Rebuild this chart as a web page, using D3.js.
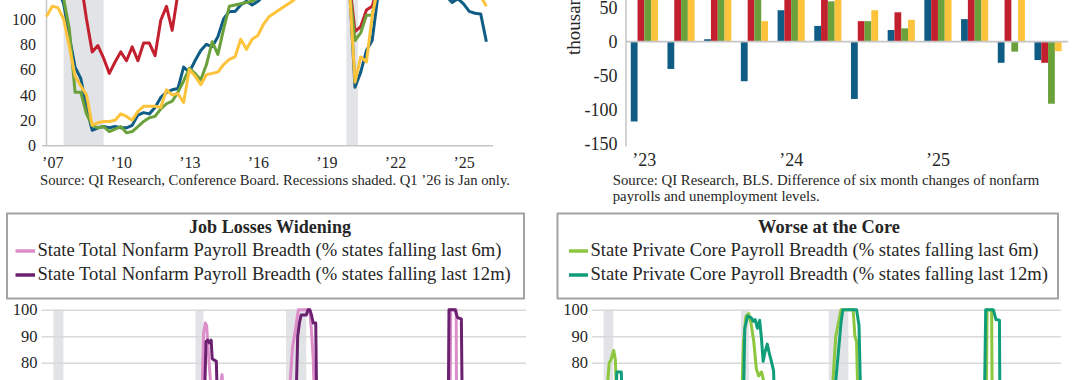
<!DOCTYPE html>
<html>
<head>
<meta charset="utf-8">
<script src="https://cdn.jsdelivr.net/npm/d3@7"></script>
<style>
body { margin: 0; background: #fff; }
svg { display: block; }
</style>
</head>
<body>
<svg id="chart" width="1080" height="380"></svg>
<script>
// ---------- data ----------
// top left: quarterly index, first point 2006 Q4, last point 2026 Q1
var tlStart = 2006.75;
var tlBlue = [125,128,124,112,86,62,53,30,12,14,15,14,15,14,14,16,24,26,25,30,38,42,44,45,62,58,67,75,80,78,86,100,106,106,111,114,111,114,118,121,124,126,128,129,131,132,133,132,134,133,132,131,130,128,46,58,75,83,118,130,140,148,150,147,145,140,135,130,126,122,118,113,116,112,106,104.5,104,82];
var tlRed = [135,138,140,140,138,135,130,100,74,79,69,57,66,74,67,78,67,81,81,71,99,110,91,120,135,140,145,150,152,155,158,160,162,165,166,168,170,170,171,172,172,173,174,175,176,176,177,178,178,178,177,176,175,130,90,94,107,110,125,140,150,160,165,168,170,168,165,162,160,158,156,154,152,150,148,146,145,143];
var tlGreen = [120,124,126,116,92,42,42,25,16,14,15,11,13,15,10,11,15,19,22,23,29,33,35,42,51,61,57,52,64,82,72,92,110,111,112,113,114,117,120,122,124,126,127,128,129,130,131,131,132,132,131,130,128,125,83,89,103,103,125,135,142,146,148,147,145,142,140,138,136,134,132,130,128,126,124,122,121,120];
var tlYellow = [102,110,109,100,78,55,47,40,16,18,19,19,20,25,23,20,27,31,31,31,30,44,40,41,34,60,55,48,56,57,58,64,68,70,84,76,84,87,96,102,105,108,111,114,118,121,123,124,126,127,128,128,127,126,50,70,66,102,125,135,142,145,146,144,140,137,134,131,128,126,124,122,121,120,119,118,118,110];
var tlRecessions = [[2007.5, 2009.25], [2019.875, 2020.375]];
var tlYears = [2007, 2010, 2013, 2016, 2019, 2022, 2025];
var tlYTicks = [0, 20, 40, 60, 80, 100];

// top right: quarterly bars, thousands
var trQuarters = ["2023Q1","2023Q2","2023Q3","2023Q4","2024Q1","2024Q2","2024Q3","2024Q4","2025Q1","2025Q2","2025Q3","2025Q4"];
var trBlue = [-117, -40, 3.5, -58, 46, 23, -84, 17, 70, 33, -31, -27];
var trRed = [150, 130, 110, 95, 125, 105, 30, 43, 120, 90, 85, -31];
var trGreen = [140, 120, 100, 90, 110, 59, 30, 19.5, 95, 75, -14.6, -91];
var trYellow = [130, 115, 95, 30, 105, 80, 46, 32, 110, 85, 70, -14];
var trYTicks = [-150, -100, -50, 0, 50];

// bottom: state payroll breadth, % of states falling [decimal year, value]
var bRecessions = [[1990.4, 1991.15], [2001.1, 2001.7], [2007.92, 2009.45], [2020.1, 2020.3]];
var totalPay6m = [[1989.5,20],[1990.8,42],[1991.3,55],[1992.2,25],[1995,6],[2000.8,12],[2001.5,48],[2001.6,68],[2001.71,91],[2001.84,95],[2001.94,94],[2002.1,81.5],[2002.23,73],[2002.5,65],[2002.9,69],[2003.1,75.5],[2003.3,62],[2003.8,40],[2005,8],[2007.8,30],[2008.14,66],[2008.41,85.6],[2008.66,93.4],[2008.85,100],[2009.71,100],[2009.84,92],[2009.97,81.5],[2010.1,60],[2010.6,25],[2012,8],[2019.5,10],[2020.25,40],[2020.33,100],[2020.74,100],[2020.79,40],[2021.2,8],[2024,20],[2026,45]];
var totalPay12m = [[1989.5,15],[1991.5,50],[1992.5,35],[1994,5],[2001.5,20],[2001.78,66],[2001.89,88],[2002.02,88.5],[2002.15,87.5],[2002.28,88.5],[2002.36,81.5],[2002.67,80.5],[2002.77,62],[2003.3,50],[2004.5,10],[2008.5,35],[2008.68,66],[2008.8,90],[2008.93,95],[2009.06,98],[2009.45,98],[2009.58,100],[2009.71,100],[2009.84,98],[2009.97,95],[2010.16,95],[2010.24,60],[2010.8,30],[2012,10],[2020.1,30],[2020.2,100],[2020.66,100],[2020.84,97],[2021.13,96.5],[2021.24,40],[2022,5],[2025,25],[2026,35]];
var corePay6m = [[1989.5,20],[1990.5,50],[1990.71,72],[1990.84,80],[1990.97,81],[1991.19,84.6],[1991.32,81],[1991.43,65],[1992,40],[1993,15],[2000.8,20],[2001.15,66],[2001.29,88],[2001.48,97.5],[2001.69,98.5],[2001.88,94.8],[2002.09,88],[2002.29,77.7],[2002.47,75],[2002.69,76.5],[2002.82,74],[2003,62],[2004,20],[2007.8,30],[2008.21,70],[2008.47,90],[2008.88,100],[2009.82,100],[2009.96,90],[2010.09,88],[2010.22,60],[2011,20],[2020.1,30],[2020.25,100],[2020.6,100],[2020.68,40],[2021.5,10],[2026,45]];
var corePay12m = [[1989.5,15],[1991.3,55],[1991.43,76.5],[1991.78,76.5],[1991.87,60],[1992.8,40],[1994,10],[2001.2,30],[2001.29,66],[2001.39,93],[2001.61,97.6],[2001.88,97],[2002.07,95.6],[2002.2,96.3],[2002.37,93],[2002.55,96],[2002.69,89],[2002.82,80.5],[2002.96,84],[2003.14,87],[2003.3,83.5],[2003.44,80.9],[2003.63,77],[2003.71,65],[2004.5,30],[2008.2,40],[2008.34,66],[2008.88,95],[2009.02,100],[2010.09,100],[2010.28,94],[2010.44,60],[2011.2,25],[2019.9,15],[2020.14,100],[2020.73,100],[2020.94,96.3],[2021.21,96],[2021.27,40],[2022,8],[2026,50]];
var bYTicks = [70, 80, 90, 100];

// ---------- style ----------
var FONT = "'Liberation Serif', 'Times New Roman', serif";
var C = {
	blue: "#0f5d85", red: "#c3202f", green: "#6ba13b", yellow: "#fdc33b",
	pink: "#dc8dca", purple: "#6b2070", lime: "#8dc63f", teal: "#0f9d7a",
	shade: "#e2e3e6", grid: "#d9d9d9", axis: "#c6c6c6", text: "#262626"
};

var svg = d3.select("#chart");
svg.append("rect").attr("width", 1080).attr("height", 380).attr("fill", "#fff");

// shrink or grow a text so it spans the target width
function fitText(sel, target) {
	var w = sel.node().getComputedTextLength();
	var fs = parseFloat(sel.attr("font-size"));
	var nfs = fs * target / w;
	sel.attr("font-size", nfs.toFixed(2));
	return nfs;
}

function styleAxis(g, size) {
	g.select(".domain").remove();
	g.selectAll(".tick line").remove();
	g.selectAll("text")
		.attr("font-family", FONT)
		.attr("font-size", size)
		.attr("fill", C.text);
}

var yearLabel = function(y) { return "\u2019" + String(y).slice(2); };

// ---------- top left ----------
var xTL = d3.scaleLinear().domain([tlStart, 2026]).range([46.5, 486.4]);
var yTL = d3.scaleLinear().domain([0, 115]).range([145.5, 0]);
var tl = svg.append("g");

tl.selectAll("rect.rec").data(tlRecessions).join("rect")
	.attr("class", "rec")
	.attr("x", function(d) { return xTL(d[0]); })
	.attr("width", function(d) { return xTL(d[1]) - xTL(d[0]); })
	.attr("y", yTL(115)).attr("height", yTL(0) - yTL(115))
	.attr("fill", C.shade);

tl.append("line").attr("x1", 42).attr("x2", xTL(2026.29))
	.attr("y1", yTL(0) + 0.3).attr("y2", yTL(0) + 0.3)
	.attr("stroke", C.axis).attr("stroke-width", 1.5);
tl.append("line").attr("x1", xTL(tlStart)).attr("x2", xTL(tlStart))
	.attr("y1", 0).attr("y2", yTL(0))
	.attr("stroke", C.axis).attr("stroke-width", 1.5);

tl.append("g").attr("transform", "translate(0," + yTL(0) + ")")
	.call(d3.axisBottom(xTL).tickValues(tlYears).tickSize(0).tickPadding(11).tickFormat(yearLabel))
	.call(styleAxis, 16);
tl.append("g").attr("transform", "translate(" + xTL(tlStart) + ",0)")
	.call(d3.axisLeft(yTL).tickValues(tlYTicks).tickSize(0).tickPadding(10.5))
	.call(styleAxis, 16);

var tlLine = d3.line()
	.x(function(d, i) { return xTL(tlStart + i / 4); })
	.y(function(d) { return yTL(d); });
[[tlBlue, C.blue], [tlRed, C.red], [tlGreen, C.green], [tlYellow, C.yellow]].forEach(function(s) {
	tl.append("path").datum(s[0])
		.attr("d", tlLine)
		.attr("fill", "none").attr("stroke", s[1])
		.attr("stroke-width", 3).attr("stroke-linejoin", "round");
});

var tlSrc = tl.append("text").attr("x", 40).attr("y", 185)
	.attr("font-family", FONT).attr("font-size", 14).attr("fill", C.text)
	.text("Source: QI Research, Conference Board. Recessions shaded. Q1 \u201926 is Jan only.");
fitText(tlSrc, 470);

// ---------- top right ----------
var xTR = d3.scaleBand().domain(trQuarters).range([626, 1066.4]).paddingInner(0.26).paddingOuter(0.13);
var yTR = d3.scaleLinear().domain([-150, 61]).range([144, 0]);
var trSeries = [["blue", trBlue], ["red", trRed], ["green", trGreen], ["yellow", trYellow]];
var xInner = d3.scaleBand().domain(trSeries.map(function(s) { return s[0]; })).range([0, xTR.bandwidth()]);
var tr = svg.append("g");

trSeries.forEach(function(s) {
	tr.append("g").selectAll("rect").data(s[1]).join("rect")
		.attr("x", function(d, i) { return xTR(trQuarters[i]) + xInner(s[0]); })
		.attr("width", xInner.bandwidth())
		.attr("y", function(d) { return d >= 0 ? yTR(d) : yTR(0); })
		.attr("height", function(d) { return Math.abs(yTR(d) - yTR(0)); })
		.attr("fill", C[s[0]]);
});

tr.append("line").attr("x1", 626).attr("x2", 1068)
	.attr("y1", yTR(0)).attr("y2", yTR(0))
	.attr("stroke", C.axis).attr("stroke-width", 1.8);
tr.append("line").attr("x1", 626).attr("x2", 626)
	.attr("y1", 0).attr("y2", yTR(-150) + 2.5)
	.attr("stroke", C.axis).attr("stroke-width", 1.5);

tr.append("g").attr("transform", "translate(626,0)")
	.call(d3.axisLeft(yTR).tickValues(trYTicks).tickSize(0).tickPadding(8.5).tickFormat(function(d) { return String(d); }))
	.call(styleAxis, 18);
tr.append("g").attr("transform", "translate(0," + yTR(-150) + ")")
	.call(d3.axisBottom(xTR).tickValues(["2023Q1", "2024Q1", "2025Q1"]).tickSize(0).tickPadding(9)
		.tickFormat(function(q) { return yearLabel(q.slice(0, 4)); }))
	.call(styleAxis, 18);

tr.append("text").attr("transform", "translate(580,55) rotate(-90)")
	.attr("font-family", FONT).attr("font-size", 19).attr("fill", C.text)
	.text("thousands");

var trSrc1 = tr.append("text").attr("x", 612.7).attr("y", 185)
	.attr("font-family", FONT).attr("font-size", 14).attr("fill", C.text)
	.text("Source: QI Research, BLS. Difference of six month changes of nonfarm");
var trFs = fitText(trSrc1, 427);
tr.append("text").attr("x", 612.7).attr("y", 201)
	.attr("font-family", FONT).attr("font-size", trFs.toFixed(2)).attr("fill", C.text)
	.text("payrolls and unemployment levels.");

// ---------- bottom panels ----------
var yB = d3.scaleLinear().domain([70, 100]).range([389.2, 309.7]);

function breadthPanel(opt) {
	var g = svg.append("g");
	var x = d3.scaleLinear().domain([1989.5, 2026]).range([opt.x0, opt.x1]);

	// legend box
	g.append("rect").attr("x", opt.box[0]).attr("y", 213.5)
		.attr("width", opt.box[1] - opt.box[0]).attr("height", 85)
		.attr("fill", "#fff").attr("stroke", "#a3a3a3").attr("stroke-width", 2);
	var title = g.append("text").attr("x", opt.titleX).attr("y", 233)
		.attr("text-anchor", "middle").attr("font-family", FONT).attr("font-weight", "bold")
		.attr("font-size", 17).attr("fill", C.text).text(opt.title);
	fitText(title, opt.titleW);

	var fs = null;
	opt.series.forEach(function(s, i) {
		var yy = 256 + i * 24;
		g.append("line").attr("x1", opt.swatch[0]).attr("x2", opt.swatch[1])
			.attr("y1", yy - 5).attr("y2", yy - 5)
			.attr("stroke", s.color).attr("stroke-width", 3.5);
		var t = g.append("text").attr("x", opt.swatch[1] + 2.5).attr("y", yy)
			.attr("font-family", FONT).attr("font-size", fs ? fs.toFixed(2) : 17)
			.attr("fill", C.text).text(s.label);
		if (!fs) fs = fitText(t, opt.labelW);
	});

	// recessions
	g.selectAll("rect.rec").data(bRecessions).join("rect")
		.attr("class", "rec")
		.attr("x", function(d) { return x(d[0]); })
		.attr("width", function(d) { return x(d[1]) - x(d[0]); })
		.attr("y", yB(100)).attr("height", 90)
		.attr("fill", C.shade);

	// gridlines + labels
	var ax = g.append("g").attr("transform", "translate(" + opt.x0 + ",0)")
		.call(d3.axisLeft(yB).tickValues(bYTicks).tickSize(-(opt.x1 - opt.x0)).tickPadding(4));
	ax.select(".domain").remove();
	ax.selectAll(".tick line").attr("stroke", C.grid).attr("stroke-width", 1.6);
	ax.selectAll("text").attr("font-family", FONT).attr("font-size", 16.5).attr("fill", C.text);

	var line = d3.line()
		.x(function(d) { return x(d[0]); })
		.y(function(d) { return yB(d[1]); });
	opt.series.forEach(function(s) {
		g.append("path").datum(s.data)
			.attr("d", line)
			.attr("fill", "none").attr("stroke", s.color)
			.attr("stroke-width", 3).attr("stroke-linejoin", "round");
	});
}

breadthPanel({
	x0: 41.5, x1: 526, box: [7, 524], titleX: 270, titleW: 162,
	swatch: [15.5, 35], labelW: 464,
	title: "Job Losses Widening",
	series: [
		{ label: "State Total Nonfarm Payroll Breadth (% states falling last 6m)", color: C.pink, data: totalPay6m },
		{ label: "State Total Nonfarm Payroll Breadth (% states falling last 12m)", color: C.purple, data: totalPay12m }
	]
});

breadthPanel({
	x0: 592, x1: 1061, box: [557.5, 1058], titleX: 829, titleW: 142,
	swatch: [569, 588], labelW: 448,
	title: "Worse at the Core",
	series: [
		{ label: "State Private Core Payroll Breadth (% states falling last 6m)", color: C.lime, data: corePay6m },
		{ label: "State Private Core Payroll Breadth (% states falling last 12m)", color: C.teal, data: corePay12m }
	]
});
</script>
</body>
</html>
